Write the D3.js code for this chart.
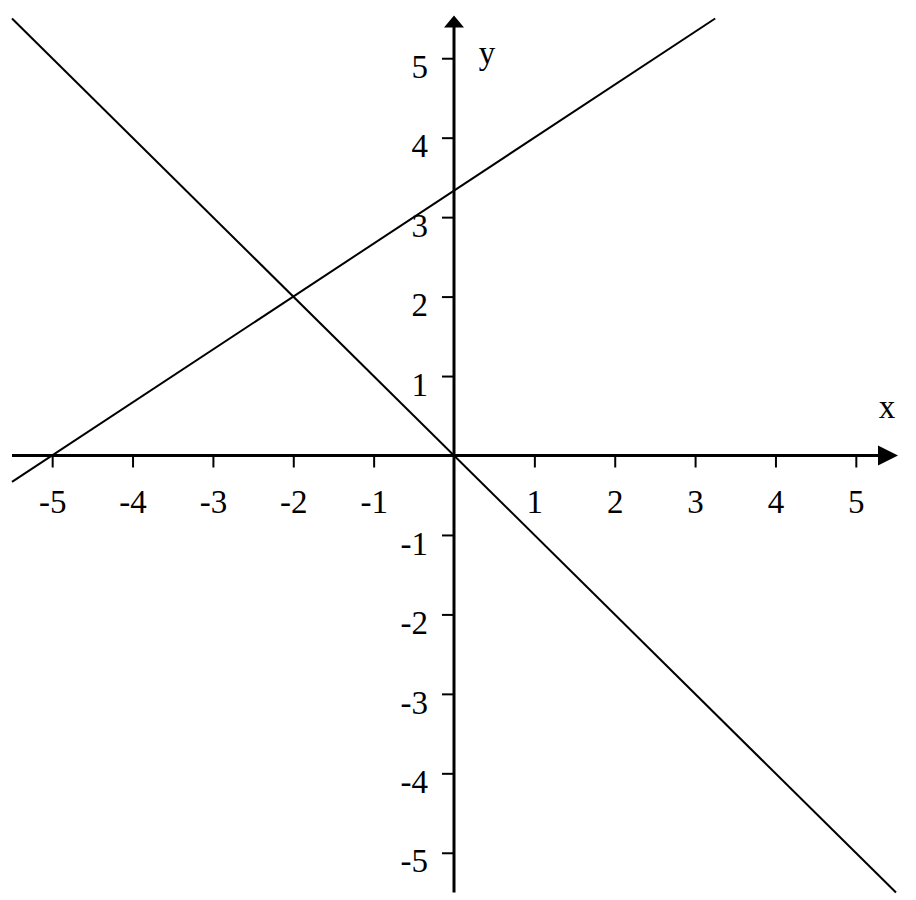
<!DOCTYPE html>
<html>
<head>
<meta charset="utf-8">
<script src="https://cdn.jsdelivr.net/npm/d3@7"></script>
<style>
  body { margin: 0; background: #fff; }
  text { font-family: "Liberation Serif", "Times New Roman", serif; fill: #000; }
</style>
</head>
<body>
<script>
// tick values on both axes (0 is left out, as in the picture)
var xTicks = [-5, -4, -3, -2, -1, 1, 2, 3, 4, 5];
var yTicks = [-5, -4, -3, -2, -1, 1, 2, 3, 4, 5];

// the two lines, as end points inside the view
var line1X = [-5.5, 5.5];     // y = -x
var line1Y = [5.5, -5.5];
var line2X = [-5.5, 3.25];    // y = 2x/3 + 10/3
var line2Y = [-0.333, 5.5];

var w = 916, h = 900;
var fs = 33; // label font size
var svg = d3.select("body").append("svg")
  .attr("width", w)
  .attr("height", h);

var x = d3.scaleLinear().domain([-5.5, 5.5]).range([12, 896]);
var y = d3.scaleLinear().domain([-5.5, 5.5]).range([892.5, 18.5]);

var fmt = function(d) { return String(d); };

// x axis ticks + labels
var xAxis = svg.append("g")
  .attr("transform", "translate(0," + y(0) + ")")
  .call(d3.axisBottom(x).tickValues(xTicks).tickSize(12).tickSizeOuter(0).tickPadding(22).tickFormat(fmt));
xAxis.select(".domain").remove();
xAxis.selectAll("line").attr("stroke", "#000").attr("stroke-width", 2);
xAxis.selectAll("text").attr("font-size", fs).attr("font-family", null);

// y axis ticks + labels
var yAxis = svg.append("g")
  .attr("transform", "translate(" + x(0) + ",0)")
  .call(d3.axisLeft(y).tickValues(yTicks).tickSize(12).tickSizeOuter(0).tickPadding(14).tickFormat(fmt));
yAxis.select(".domain").remove();
yAxis.selectAll("line").attr("stroke", "#000").attr("stroke-width", 2);
yAxis.selectAll("text").attr("font-size", fs).attr("font-family", null).attr("dy", "0.58em");

// main axis lines with arrow heads
svg.append("line")
  .attr("x1", x(-5.5)).attr("x2", x(5.5) - 10)
  .attr("y1", y(0)).attr("y2", y(0))
  .attr("stroke", "#000").attr("stroke-width", 3);
svg.append("line")
  .attr("x1", x(0)).attr("x2", x(0))
  .attr("y1", y(-5.5)).attr("y2", y(5.5) + 6)
  .attr("stroke", "#000").attr("stroke-width", 3);

var xe = x(5.5), y0 = y(0);
svg.append("path")
  .attr("d", "M" + (xe + 2) + "," + y0 + "L" + (xe - 18) + "," + (y0 - 10) + "L" + (xe - 18) + "," + (y0 + 10) + "Z")
  .attr("fill", "#000");
var ye = y(5.5), x0 = x(0);
svg.append("path")
  .attr("d", "M" + x0 + "," + (ye - 3) + "L" + (x0 - 10) + "," + (ye + 9) + "L" + (x0 + 10) + "," + (ye + 9) + "Z")
  .attr("fill", "#000");

// axis titles
svg.append("text").attr("x", 887).attr("y", 418).attr("text-anchor", "middle")
  .attr("font-size", fs).text("x");
svg.append("text").attr("x", 487).attr("y", 64).attr("text-anchor", "middle")
  .attr("font-size", fs).text("y");

// the lines
var line = d3.line().x(function(d) { return x(d[0]); }).y(function(d) { return y(d[1]); });
[[line1X, line1Y], [line2X, line2Y]].forEach(function(l) {
  svg.append("path")
    .datum(d3.zip(l[0], l[1]))
    .attr("d", line)
    .attr("fill", "none")
    .attr("stroke", "#000")
    .attr("stroke-width", 2);
});
</script>
</body>
</html>
